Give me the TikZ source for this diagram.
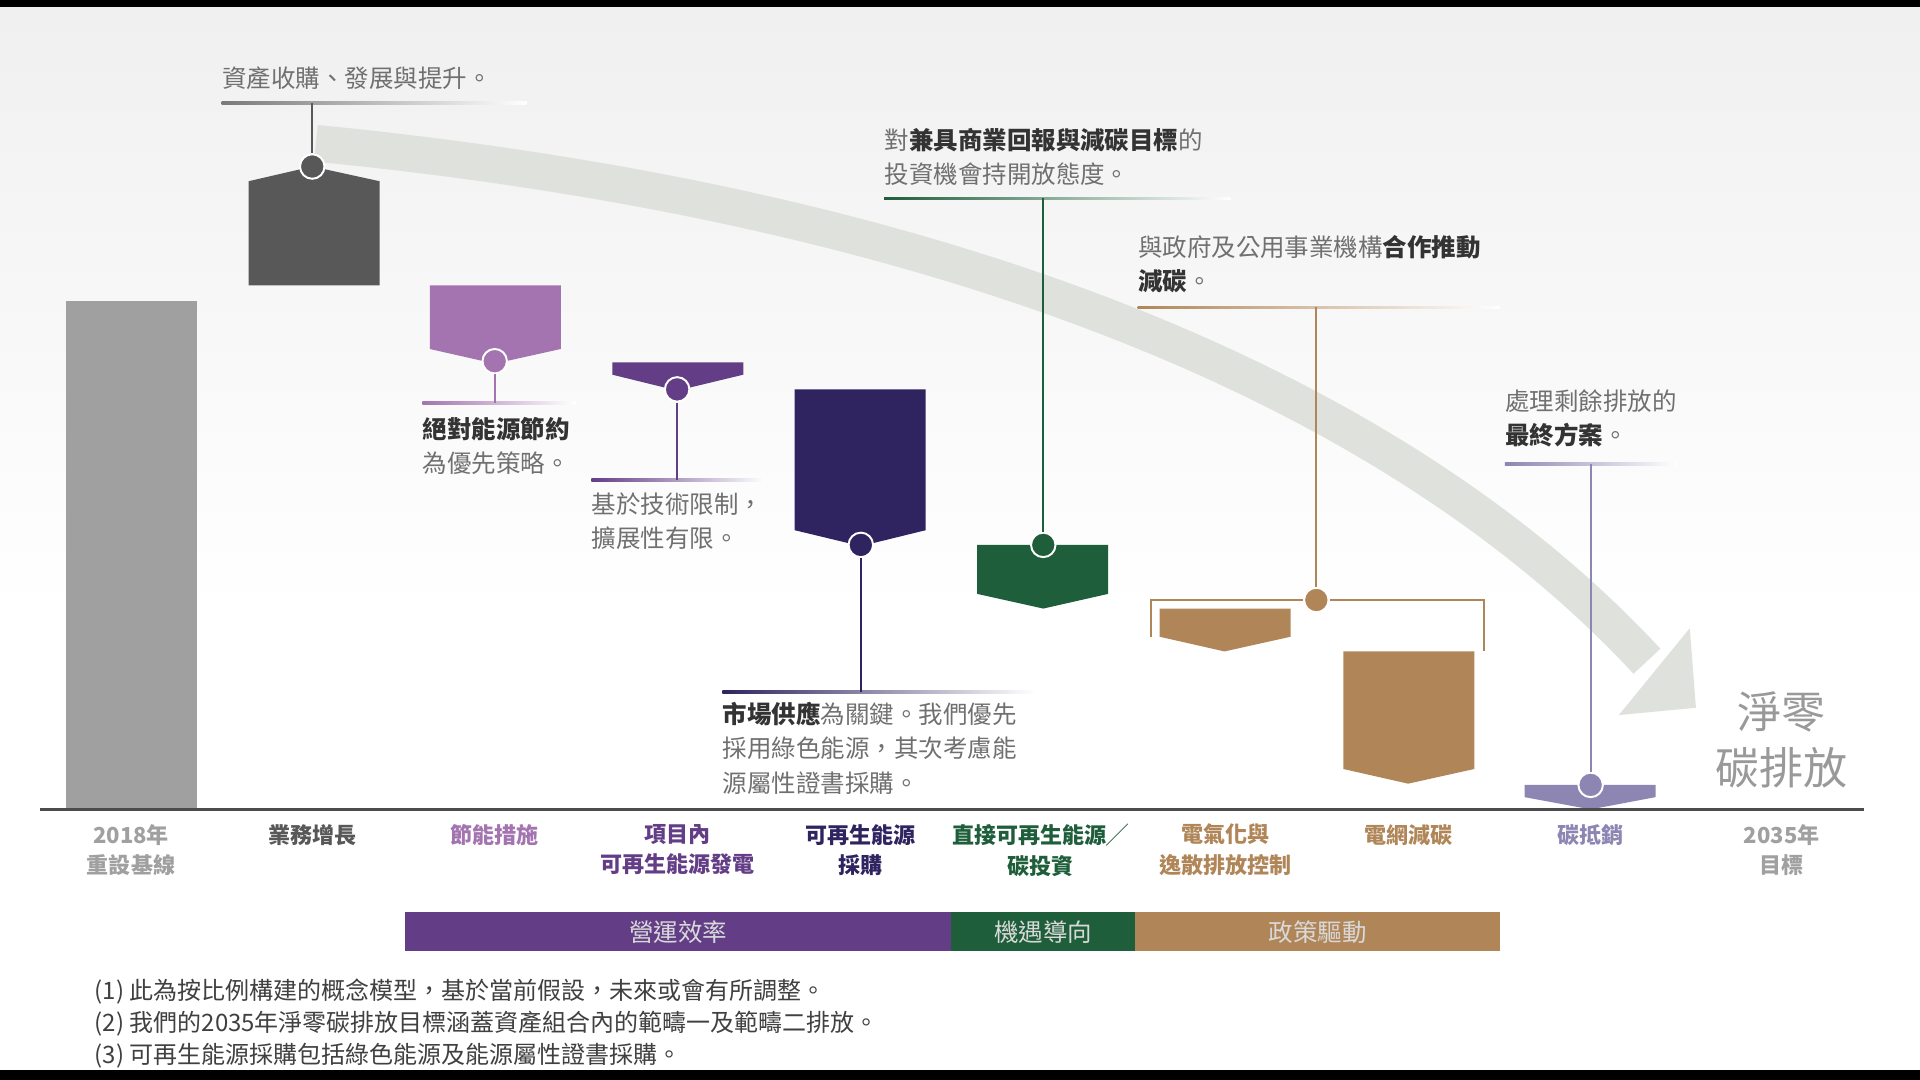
\documentclass[tikz,border=0pt]{standalone}
\usepackage{fontspec}
\setmainfont{Noto Sans CJK TC}
\usetikzlibrary{positioning}
\definecolor{basegray}{HTML}{A0A0A0}
\definecolor{growgray}{HTML}{585858}
\definecolor{lilac}{HTML}{A374B0}
\definecolor{plum}{HTML}{633E87}
\definecolor{indigo}{HTML}{2F2360}
\definecolor{forest}{HTML}{1E5E3A}
\definecolor{bronze}{HTML}{B08659}
\definecolor{lavender}{HTML}{8D86B3}
\definecolor{arrowgray}{HTML}{DFE2DC}
\definecolor{txtgray}{HTML}{707070}
\tikzset{
  dot/.style={circle, fill=#1, draw=white, line width=0.8pt, inner sep=0pt, minimum size=10pt},
  cat/.style={font=\fontsize{9}{12.5}\selectfont\bfseries, align=center, text=#1},
  note/.style={font=\fontsize{10}{14}\selectfont, align=left, anchor=north west, text=txtgray, inner sep=0pt},
}
\newcommand{\fadeline}[4]{\shade[left color=#1, right color=white] (#2,#4-1) rectangle (#3,#4+1);}
\begin{document}
\begin{tikzpicture}[x=0.5pt, y=-0.5pt]
    % fondo
    \shade[top color=black!6, bottom color=white] (0,0) rectangle (1568,500);
    \fill[white] (0,500) rectangle (1568,882);
    \fill[black] (0,0) rectangle (1568,6);
    \fill[black] (0,874) rectangle (1568,882);
    \useasboundingbox (0,0) rectangle (1568,882);

    % flecha curva
    \draw[arrowgray, line width=15pt] (258,117) .. controls (800,170) and (1150,330) .. (1345,540);
    \fill[arrowgray] (1385,578) -- (1322,584) -- (1380,513) -- cycle;

    % base 2018
    \fill[basegray] (54,246) rectangle (161,661);

    % bloques
    \fill[growgray] (203,233) -- (203,148) -- (255,136) -- (310,148) -- (310,233) -- cycle;
    \fill[lilac] (351,233) -- (458,233) -- (458,285) -- (404,297) -- (351,285) -- cycle;
    \fill[plum] (500,296) -- (607,296) -- (607,306) -- (553,319) -- (500,306) -- cycle;
    \fill[indigo] (649,318) -- (756,318) -- (756,433) -- (703,446) -- (649,433) -- cycle;
    \fill[forest] (798,445) -- (905,445) -- (905,485) -- (852,497) -- (798,485) -- cycle;
    \fill[bronze] (947,497) -- (1054,497) -- (1054,520) -- (1000,532) -- (947,520) -- cycle;
    \fill[bronze] (1097,532) -- (1204,532) -- (1204,628) -- (1150,640) -- (1097,628) -- cycle;
    \fill[lavender] (1245,641) -- (1352,641) -- (1352,651) -- (1299,661) -- (1245,651) -- cycle;

    % eje
    \draw[black!70, line width=1.2pt] (33,661) -- (1522,661);

    % lineas de texto
    \fadeline{growgray!80}{181}{430}{84}
    \fadeline{lilac}{345}{470}{329}
    \fadeline{plum}{483}{625}{392}
    \fadeline{indigo}{590}{845}{565}
    \fadeline{forest}{722}{1005}{162}
    \fadeline{bronze}{929}{1225}{251}
    \fadeline{lavender}{1229}{1370}{379}

    % puntos
    \node[dot=growgray] (dgrow) at (255,136) {};
    \node[dot=lilac] (dsave) at (404,295) {};
    \node[dot=plum] (donsite) at (553,318) {};
    \node[dot=indigo] (dppa) at (703,445) {};
    \node[dot=forest] (dinvest) at (852,445) {};
    \node[dot=bronze] (dpolicy) at (1075,490) {};
    \node[dot=lavender] (doffset) at (1299,641) {};
    \coordinate (tgrow) at (255,84);
    \coordinate (tsave) at (404,329);
    \coordinate (tonsite) at (553,392);
    \coordinate (tppa) at (703,565);
    \coordinate (tinvest) at (852,162);
    \coordinate (tpolicy) at (1075,251);
    \coordinate (toffset) at (1299,379);

    % tallos
    \draw[growgray, thick] (dgrow) -- (tgrow);
    \draw[lilac, thick] (dsave) -- (tsave);
    \draw[plum, thick] (donsite) -- (tonsite);
    \draw[indigo, thick] (dppa) -- (tppa);
    \draw[forest, thick] (dinvest) -- (tinvest);
    \draw[bronze, thick] (dpolicy) -- (tpolicy);
    \draw[lavender, thick] (doffset) -- (toffset);
    \draw[bronze, thick] (940,520) -- (940,490) -- (dpolicy) -- (1212,490) -- (1212,532);

    % textos
    \node[note] (ngrow) at (181,54) {資產收購、發展與提升。};
    \node[note] (nsave) at (345,340) {\textbf{\color{black!80}絕對能源節約}\\為優先策略。};
    \node[note] (nonsite) at (483,402) {基於技術限制，\\擴展性有限。};
    \node[note] (nppa) at (590,573) {\textbf{\color{black!80}市場供應}為關鍵。我們優先\\採用綠色能源，其次考慮能\\源屬性證書採購。};
    \node[note] (ninvest) at (722,104) {對\textbf{\color{black!80}兼具商業回報與減碳目標}的\\投資機會持開放態度。};
    \node[note] (npolicy) at (929,192) {與政府及公用事業機構\textbf{\color{black!80}合作推動}\\\textbf{\color{black!80}減碳}。};
    \node[note] (noffset) at (1229,318) {處理剩餘排放的\\\textbf{\color{black!80}最終方案}。};
    \node[font=\fontsize{18}{23}\selectfont, text=black!40, align=center] (netzero) at (1455,604) {淨零\\碳排放};

    % categorias
    \node[cat=basegray, anchor=north] (c1) at (107,666) {2018年\\重設基線};
    \node[cat=growgray, anchor=north] (c2) at (255,666) {業務增長};
    \node[cat=lilac, anchor=north] (c3) at (404,666) {節能措施};
    \node[cat=plum, anchor=north] (c4) at (553,666) {項目內\\可再生能源發電};
    \node[cat=indigo, anchor=north] (c5) at (703,666) {可再生能源\\採購};
    \node[cat=forest, anchor=north] (c6) at (850,666) {直接可再生能源╱\\碳投資};
    \node[cat=bronze, anchor=north] (c7) at (1001,666) {電氣化與\\逸散排放控制};
    \node[cat=bronze, anchor=north] (c8) at (1150,666) {電網減碳};
    \node[cat=lavender, anchor=north] (c9) at (1299,666) {碳抵銷};
    \node[cat=basegray, anchor=north] (c10) at (1455,666) {2035年\\目標};

    % barra de grupos
    \fill[plum] (331,745) rectangle (777,777);
    \fill[forest] (777,745) rectangle (927,777);
    \fill[bronze] (927,745) rectangle (1225,777);
    \node[text=white!85!black, font=\fontsize{10}{10}\selectfont] (g1) at (554,761) {營運效率};
    \node[text=white!85!black, font=\fontsize{10}{10}\selectfont] (g2) at (852,761) {機遇導向};
    \node[text=white!85!black, font=\fontsize{10}{10}\selectfont] (g3) at (1076,761) {政策驅動};

    % notas
    \node[note, text=black!75, font=\fontsize{9.8}{13}\selectfont] (foot) at (77,799) {(1) 此為按比例構建的概念模型，基於當前假設，未來或會有所調整。\\(2) 我們的2035年淨零碳排放目標涵蓋資產組合內的範疇一及範疇二排放。\\(3) 可再生能源採購包括綠色能源及能源屬性證書採購。};
\end{tikzpicture}
\end{document}
